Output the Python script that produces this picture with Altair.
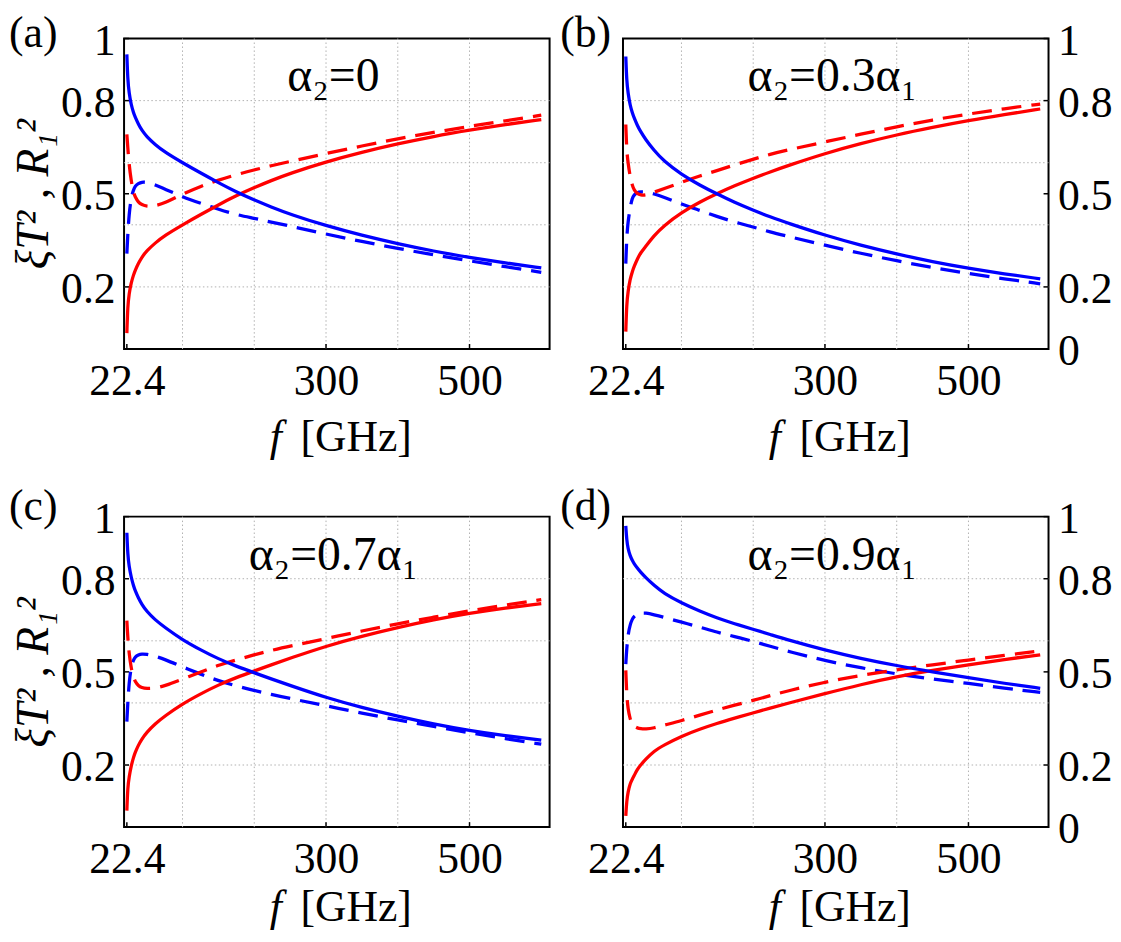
import altair as alt
import pandas as pd

# ---------------- data ----------------
F_GHZ = [22.4, 23.7, 25.5, 28.4, 31.6, 33.9, 38.5, 43.1, 50, 61.6, 75.4, 100, 126,
         149, 174, 200, 223, 250, 300, 350, 400, 450, 500, 550, 600]

# (a) alpha2 = 0
T2_A = [0.949, 0.865, 0.825, 0.787, 0.762, 0.747, 0.724, 0.705, 0.684, 0.659, 0.634, 0.600, 0.566,
        0.537, 0.507, 0.480, 0.458, 0.434, 0.397, 0.366, 0.339, 0.315, 0.295, 0.277, 0.261]
R2_A = [0.051, 0.140, 0.178, 0.213, 0.238, 0.253, 0.276, 0.295, 0.316, 0.341, 0.366, 0.400, 0.434,
        0.463, 0.493, 0.520, 0.542, 0.566, 0.603, 0.634, 0.661, 0.685, 0.705, 0.723, 0.739]
R2D_A = [0.691, 0.649, 0.595, 0.542, 0.504, 0.490, 0.472, 0.465, 0.459, 0.461, 0.470, 0.499, 0.525,
         0.543, 0.561, 0.577, 0.590, 0.604, 0.630, 0.654, 0.677, 0.698, 0.717, 0.735, 0.753]
T2D_A = [0.307, 0.370, 0.434, 0.488, 0.512, 0.525, 0.533, 0.538, 0.537, 0.529, 0.515, 0.490, 0.469,
         0.451, 0.433, 0.421, 0.409, 0.396, 0.370, 0.346, 0.324, 0.303, 0.284, 0.265, 0.247]

# (b) alpha2 = 0.3 alpha1
T2_B = [0.942, 0.862, 0.825, 0.785, 0.760, 0.745, 0.720, 0.700, 0.675, 0.640, 0.605, 0.562, 0.527,
        0.500, 0.472, 0.447, 0.426, 0.404, 0.366, 0.334, 0.306, 0.281, 0.260, 0.242, 0.226]
R2_B = [0.056, 0.147, 0.185, 0.225, 0.250, 0.265, 0.290, 0.310, 0.330, 0.365, 0.397, 0.440, 0.474,
        0.500, 0.526, 0.550, 0.570, 0.592, 0.630, 0.662, 0.690, 0.714, 0.736, 0.755, 0.773]
R2D_B = [0.723, 0.638, 0.600, 0.555, 0.526, 0.512, 0.500, 0.496, 0.495, 0.505, 0.516, 0.537, 0.558,
         0.574, 0.593, 0.611, 0.627, 0.642, 0.667, 0.692, 0.716, 0.738, 0.757, 0.774, 0.789]
T2D_B = [0.275, 0.360, 0.410, 0.455, 0.488, 0.496, 0.504, 0.506, 0.506, 0.500, 0.489, 0.467, 0.446,
         0.427, 0.409, 0.393, 0.377, 0.362, 0.334, 0.308, 0.284, 0.262, 0.243, 0.226, 0.210]

# (c) alpha2 = 0.7 alpha1
T2_C = [0.948, 0.875, 0.840, 0.805, 0.778, 0.762, 0.738, 0.718, 0.695, 0.668, 0.643, 0.603, 0.570,
        0.543, 0.519, 0.497, 0.478, 0.456, 0.417, 0.385, 0.357, 0.332, 0.311, 0.294, 0.280]
R2_C = [0.053, 0.130, 0.160, 0.197, 0.224, 0.240, 0.264, 0.283, 0.305, 0.332, 0.358, 0.397, 0.430,
        0.457, 0.481, 0.503, 0.522, 0.544, 0.583, 0.615, 0.643, 0.668, 0.689, 0.706, 0.720]
R2D_C = [0.665, 0.610, 0.560, 0.511, 0.485, 0.468, 0.455, 0.449, 0.446, 0.447, 0.455, 0.477, 0.500,
         0.521, 0.538, 0.555, 0.569, 0.583, 0.607, 0.632, 0.655, 0.676, 0.697, 0.715, 0.733]
T2D_C = [0.340, 0.400, 0.465, 0.516, 0.538, 0.548, 0.555, 0.558, 0.557, 0.551, 0.540, 0.516, 0.492,
         0.472, 0.455, 0.440, 0.428, 0.414, 0.391, 0.367, 0.345, 0.324, 0.304, 0.285, 0.267]

# (d) alpha2 = 0.9 alpha1
T2_D = [0.970, 0.925, 0.897, 0.874, 0.858, 0.849, 0.834, 0.821, 0.804, 0.779, 0.753, 0.722, 0.695,
        0.674, 0.655, 0.637, 0.621, 0.602, 0.570, 0.543, 0.520, 0.500, 0.481, 0.463, 0.447]
R2_D = [0.036, 0.085, 0.113, 0.140, 0.155, 0.165, 0.186, 0.200, 0.218, 0.245, 0.264, 0.293, 0.316,
        0.334, 0.351, 0.368, 0.383, 0.400, 0.430, 0.459, 0.485, 0.505, 0.523, 0.540, 0.555]
R2D_D = [0.505, 0.425, 0.380, 0.348, 0.330, 0.325, 0.319, 0.317, 0.316, 0.319, 0.328, 0.343, 0.361,
         0.377, 0.393, 0.408, 0.423, 0.440, 0.467, 0.489, 0.507, 0.523, 0.538, 0.553, 0.568]
T2D_D = [0.525, 0.575, 0.620, 0.652, 0.671, 0.678, 0.686, 0.689, 0.690, 0.684, 0.676, 0.660, 0.644,
         0.628, 0.614, 0.598, 0.583, 0.565, 0.536, 0.513, 0.493, 0.477, 0.463, 0.447, 0.434]

PANEL_TAGS = ["(a)", "(b)", "(c)", "(d)"]
ALPHA_TEXT = ["α₂=0", "α₂=0.3α₁", "α₂=0.7α₁", "α₂=0.9α₁"]
X_TICKS = [22.4, 300, 500]
Y_TICKS_LEFT = [0.2, 0.5, 0.8, 1]
Y_TICKS_RIGHT = [0, 0.2, 0.5, 0.8, 1]
X_GRID = [100, 200, 300, 400, 500]
Y_GRID = [0.2, 0.4, 0.6, 0.8]
X_TITLE_VAR = "f"
X_TITLE_UNIT = "[GHz]"
Y_TITLE = "ξT² , R₁²"

# ---------------- styling ----------------
W, H = 429, 313
FONT = "Liberation Serif"
FS = 44
BLUE = "#0000ff"
RED = "#ff0000"
GRID_COLOR = "#b0b0b0"
X_DOMAIN = [18.5, 611.6]


def text_layer(txt, x, y, align="left", baseline="alphabetic", style="normal", angle=0, size=FS):
    return alt.Chart(pd.DataFrame({"t": [txt]})).mark_text(
        font=FONT, fontSize=size, align=align, baseline=baseline, fontStyle=style,
        angle=angle, color="black"
    ).encode(text="t:N", x=alt.value(x), y=alt.value(y))


def make_panel(i, t_solid, r_solid, t_dash, r_dash, side, row):
    x_enc = alt.X(
        "f:Q",
        scale=alt.Scale(domain=X_DOMAIN, nice=False, zero=False),
        axis=alt.Axis(values=X_TICKS, format=".4~g", title=None, labelPadding=11,
                      labelFlush=False, labelOverlap=False),
    )
    yt = Y_TICKS_LEFT if side == "left" else Y_TICKS_RIGHT
    y_enc = alt.Y(
        "v:Q",
        scale=alt.Scale(domain=[0, 1], nice=False, zero=False),
        axis=alt.Axis(orient=side, values=yt, format=".4~g", title=None, labelPadding=9,
                      labelOffset=3, labelFlush=False, labelOverlap=False),
    )

    layers = []
    # dotted grid
    layers.append(alt.Chart(pd.DataFrame({"f": X_GRID})).mark_rule(
        color=GRID_COLOR, strokeWidth=1, strokeDash=[1.5, 2.5]).encode(x=x_enc))
    layers.append(alt.Chart(pd.DataFrame({"v": Y_GRID})).mark_rule(
        color=GRID_COLOR, strokeWidth=1, strokeDash=[1.5, 2.5]).encode(y=y_enc))
    # inward ticks
    tx0, tx1 = (0, 5) if side == "left" else (W - 5, W)
    layers.append(alt.Chart(pd.DataFrame({"v": yt})).mark_rule(
        color="black", strokeWidth=1.5).encode(y=y_enc, x=alt.value(tx0), x2=alt.value(tx1)))
    layers.append(alt.Chart(pd.DataFrame({"f": X_TICKS})).mark_rule(
        color="black", strokeWidth=1.5).encode(x=x_enc, y=alt.value(H - 5), y2=alt.value(H)))

    # curves
    for vals, color, dash in [(t_dash, BLUE, [20, 10]), (r_dash, RED, [20, 10]),
                              (r_solid, RED, None), (t_solid, BLUE, None)]:
        df = pd.DataFrame({"f": F_GHZ, "v": vals})
        kw = dict(color=color, strokeWidth=3.3, interpolate="basis")
        if dash:
            kw["strokeDash"] = dash
        layers.append(alt.Chart(df).mark_line(**kw).encode(x=x_enc, y=y_enc))

    # texts
    tag_x = -116 if side == "left" else -63.3
    tag_y = 9 if row == 0 else 3
    title_base = 416 if row == 0 else 408
    layers.append(text_layer(PANEL_TAGS[i], tag_x, tag_y))
    layers.append(text_layer(ALPHA_TEXT[i], 211, 53 if row == 0 else 54, align="center", size=48))
    layers.append(text_layer(X_TITLE_VAR, 153, title_base, align="center", style="italic"))
    layers.append(text_layer(X_TITLE_UNIT, 234, title_base, align="center"))
    if side == "left":
        layers.append(text_layer(Y_TITLE, -77, 157, align="center", style="italic",
                                 angle=270, size=46))

    return alt.layer(*layers).properties(width=W, height=H)


pa = make_panel(0, T2_A, R2_A, T2D_A, R2D_A, "left", 0)
pb = make_panel(1, T2_B, R2_B, T2D_B, R2D_B, "right", 0)
pc = make_panel(2, T2_C, R2_C, T2D_C, R2D_C, "left", 1)
pdd = make_panel(3, T2_D, R2_D, T2D_D, R2D_D, "right", 1)

chart = alt.concat(
    pa, pb, pc, pdd, columns=2, spacing={"row": 169, "column": 74}, bounds="flush"
).properties(padding=0).configure_view(
    stroke="black", strokeWidth=2
).configure_axis(
    labelFont=FONT, labelFontSize=FS, labelColor="black", domain=False, ticks=False,
    tickSize=0, grid=False
)

chart.save("out.html", embed_options={"renderer": "svg", "actions": False})
